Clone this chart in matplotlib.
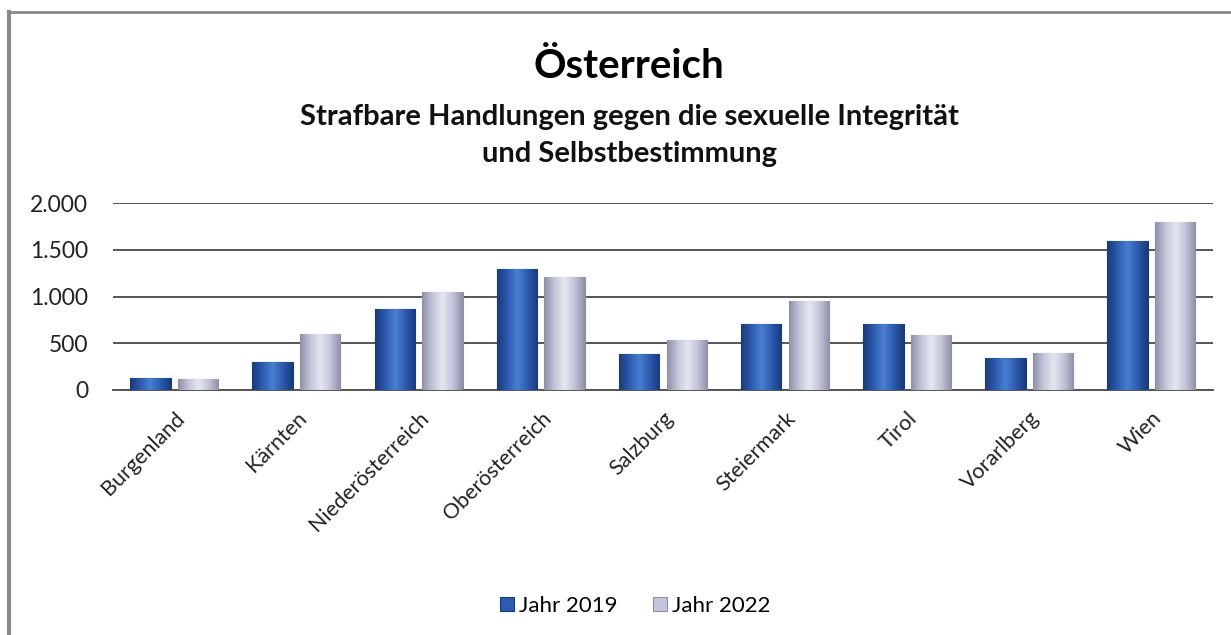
import numpy as np
import matplotlib
matplotlib.use("Agg")
import matplotlib.pyplot as plt
from matplotlib.colors import LinearSegmentedColormap
from matplotlib.ticker import FuncFormatter
from matplotlib.lines import Line2D

plt.rcParams['font.family'] = ['Lato', 'DejaVu Sans']

regions = ["Burgenland", "Kärnten", "Niederösterreich", "Oberösterreich",
           "Salzburg", "Steiermark", "Tirol", "Vorarlberg", "Wien"]
jahr_2019 = [130, 300, 870, 1300, 380, 710, 710, 340, 1590]
jahr_2022 = [120, 600, 1050, 1210, 530, 950, 590, 390, 1800]
series_labels = ["Jahr 2019", "Jahr 2022"]
y_ticks = [0, 500, 1000, 1500, 2000]

blue_cmap = LinearSegmentedColormap.from_list(
    "b", ["#1a3a78", "#2c5bb0", "#4a7fd0", "#2c5bb0", "#1a3a78"])
grey_cmap = LinearSegmentedColormap.from_list(
    "g", ["#8e90a6", "#c3c6da", "#e4e6f0", "#c3c6da", "#8e90a6"])


def shade_bars(ax, bars, cmap):
    grad = np.linspace(0, 1, 64).reshape(1, -1)
    for b in bars:
        x0, y0 = b.get_x(), b.get_y()
        w, h = b.get_width(), b.get_height()
        im = ax.imshow(grad, cmap=cmap, aspect="auto", zorder=3,
                       extent=(x0, x0 + w, y0, y0 + h), interpolation="bicubic")
        im.set_clip_path(b)


fig = plt.figure(figsize=(12.31, 6.35), dpi=100)
ax = fig.add_axes([0.092, 0.386, 0.893, 0.294])

x = np.arange(len(regions))
w = 0.33
b1 = ax.bar(x - 0.195, jahr_2019, w, color="#2c5bb0", edgecolor="#1a3a78",
            linewidth=0.8, zorder=2, label=series_labels[0])
b2 = ax.bar(x + 0.195, jahr_2022, w, color="#c3c6da", edgecolor="#8e90a6",
            linewidth=0.8, zorder=2, label=series_labels[1])
shade_bars(ax, b1, blue_cmap)
shade_bars(ax, b2, grey_cmap)

ax.set_xlim(-0.5, len(regions) - 0.5)
ax.set_ylim(0, 2000)
ax.set_yticks(y_ticks)
ax.yaxis.set_major_formatter(FuncFormatter(lambda v, p: f"{int(v):,}".replace(",", ".")))
ax.grid(axis="y", color="#555555", linewidth=1.4, zorder=1)
ax.set_axisbelow(True)
for s in ["top", "right", "left"]:
    ax.spines[s].set_visible(False)
ax.spines["bottom"].set_color("#555555")
ax.spines["bottom"].set_linewidth(1.4)
ax.tick_params(axis="both", length=0, labelsize=15.5, colors="#222222")
ax.tick_params(axis="y", pad=18, labelsize=16.5)
ax.set_xticks(x)
ax.set_xticklabels(regions, rotation=45, ha="right", rotation_mode="anchor")
ax.tick_params(axis="x", pad=13)

fig.text(0.511, 0.895, "Österreich", ha="center", va="center",
         fontsize=29, fontweight="bold", color="black")
fig.text(0.511, 0.815, "Strafbare Handlungen gegen die sexuelle Integrität",
         ha="center", va="center", fontsize=21, fontweight="bold", color="#111111")
fig.text(0.511, 0.758, "und Selbstbestimmung",
         ha="center", va="center", fontsize=21, fontweight="bold", color="#111111")

ax.legend(loc="center", bbox_to_anchor=(0.475, -1.155), ncol=2, frameon=False,
          fontsize=16, handlelength=0.6, handleheight=0.6, handletextpad=0.25,
          columnspacing=1.6)

# outer frame (left and top edges only visible)
fig.add_artist(Line2D([0.0075, 0.0075], [0.0, 0.981], transform=fig.transFigure,
                      color="#8a8a8a", linewidth=3))
fig.add_artist(Line2D([0.0075, 1.0], [0.981, 0.981], transform=fig.transFigure,
                      color="#8a8a8a", linewidth=2))

fig.savefig("out.png", dpi=100)
